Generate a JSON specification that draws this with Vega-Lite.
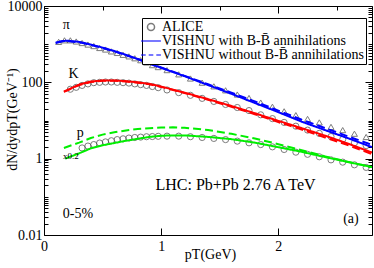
{
  "$schema": "https://vega.github.io/schema/vega-lite/v6.json",
  "width": 328,
  "height": 229,
  "autosize": {"type": "none"},
  "padding": {"left": 44, "top": 6, "right": 2, "bottom": 33},
  "background": "white",
  "config": {
    "view": {"stroke": "black", "strokeWidth": 1},
    "font": "Liberation Serif",
    "axis": {
      "labelFont": "Liberation Serif",
      "labelFontSize": 14,
      "labelColor": "black",
      "titleFont": "Liberation Serif",
      "titleFontSize": 14,
      "titleFontWeight": "normal",
      "titleColor": "black",
      "tickColor": "black",
      "domain": false,
      "grid": false,
      "labelFlush": false,
      "labelOverlap": false,
      "labelBound": false
    },
    "legend": {"labelFont": "Liberation Serif"}
  },
  "datasets": {
    "lines": [
      {"pT": 0.1, "v": 1096, "sp": "pi", "m": "with"},
      {"pT": 0.15, "v": 1202, "sp": "pi", "m": "with"},
      {"pT": 0.2, "v": 1230, "sp": "pi", "m": "with"},
      {"pT": 0.3, "v": 1148, "sp": "pi", "m": "with"},
      {"pT": 0.4, "v": 977, "sp": "pi", "m": "with"},
      {"pT": 0.5, "v": 813, "sp": "pi", "m": "with"},
      {"pT": 0.6, "v": 661, "sp": "pi", "m": "with"},
      {"pT": 0.7, "v": 525, "sp": "pi", "m": "with"},
      {"pT": 0.8, "v": 407, "sp": "pi", "m": "with"},
      {"pT": 0.9, "v": 309, "sp": "pi", "m": "with"},
      {"pT": 1.0, "v": 240, "sp": "pi", "m": "with"},
      {"pT": 1.2, "v": 145, "sp": "pi", "m": "with"},
      {"pT": 1.4, "v": 85, "sp": "pi", "m": "with"},
      {"pT": 1.6, "v": 50, "sp": "pi", "m": "with"},
      {"pT": 1.8, "v": 28.8, "sp": "pi", "m": "with"},
      {"pT": 2.0, "v": 16.6, "sp": "pi", "m": "with"},
      {"pT": 2.2, "v": 9.3, "sp": "pi", "m": "with"},
      {"pT": 2.4, "v": 5.6, "sp": "pi", "m": "with"},
      {"pT": 2.6, "v": 3.4, "sp": "pi", "m": "with"},
      {"pT": 2.8, "v": 2.0, "sp": "pi", "m": "with"},
      {"pT": 0.1, "v": 1072, "sp": "pi", "m": "without"},
      {"pT": 0.15, "v": 1175, "sp": "pi", "m": "without"},
      {"pT": 0.2, "v": 1202, "sp": "pi", "m": "without"},
      {"pT": 0.3, "v": 1122, "sp": "pi", "m": "without"},
      {"pT": 0.4, "v": 955, "sp": "pi", "m": "without"},
      {"pT": 0.5, "v": 794, "sp": "pi", "m": "without"},
      {"pT": 0.6, "v": 646, "sp": "pi", "m": "without"},
      {"pT": 0.7, "v": 513, "sp": "pi", "m": "without"},
      {"pT": 0.8, "v": 407, "sp": "pi", "m": "without"},
      {"pT": 0.9, "v": 316, "sp": "pi", "m": "without"},
      {"pT": 1.0, "v": 245, "sp": "pi", "m": "without"},
      {"pT": 1.2, "v": 148, "sp": "pi", "m": "without"},
      {"pT": 1.4, "v": 89, "sp": "pi", "m": "without"},
      {"pT": 1.6, "v": 53.7, "sp": "pi", "m": "without"},
      {"pT": 1.8, "v": 31.6, "sp": "pi", "m": "without"},
      {"pT": 2.0, "v": 18.2, "sp": "pi", "m": "without"},
      {"pT": 2.2, "v": 10.5, "sp": "pi", "m": "without"},
      {"pT": 2.4, "v": 6.3, "sp": "pi", "m": "without"},
      {"pT": 2.6, "v": 3.8, "sp": "pi", "m": "without"},
      {"pT": 2.8, "v": 2.3, "sp": "pi", "m": "without"},
      {"pT": 0.17, "v": 57.5, "sp": "K", "m": "with"},
      {"pT": 0.2, "v": 63.1, "sp": "K", "m": "with"},
      {"pT": 0.3, "v": 87.1, "sp": "K", "m": "with"},
      {"pT": 0.4, "v": 104.7, "sp": "K", "m": "with"},
      {"pT": 0.5, "v": 112.2, "sp": "K", "m": "with"},
      {"pT": 0.6, "v": 112.2, "sp": "K", "m": "with"},
      {"pT": 0.7, "v": 107.2, "sp": "K", "m": "with"},
      {"pT": 0.8, "v": 100, "sp": "K", "m": "with"},
      {"pT": 0.9, "v": 91.2, "sp": "K", "m": "with"},
      {"pT": 1.0, "v": 77.6, "sp": "K", "m": "with"},
      {"pT": 1.2, "v": 53.7, "sp": "K", "m": "with"},
      {"pT": 1.4, "v": 36.3, "sp": "K", "m": "with"},
      {"pT": 1.6, "v": 24.0, "sp": "K", "m": "with"},
      {"pT": 1.8, "v": 15.5, "sp": "K", "m": "with"},
      {"pT": 2.0, "v": 9.8, "sp": "K", "m": "with"},
      {"pT": 2.2, "v": 6.3, "sp": "K", "m": "with"},
      {"pT": 2.4, "v": 4.0, "sp": "K", "m": "with"},
      {"pT": 2.6, "v": 2.45, "sp": "K", "m": "with"},
      {"pT": 2.8, "v": 1.45, "sp": "K", "m": "with"},
      {"pT": 0.17, "v": 56.2, "sp": "K", "m": "without"},
      {"pT": 0.2, "v": 61.7, "sp": "K", "m": "without"},
      {"pT": 0.3, "v": 85.1, "sp": "K", "m": "without"},
      {"pT": 0.4, "v": 102.3, "sp": "K", "m": "without"},
      {"pT": 0.5, "v": 109.6, "sp": "K", "m": "without"},
      {"pT": 0.6, "v": 109.6, "sp": "K", "m": "without"},
      {"pT": 0.7, "v": 104.7, "sp": "K", "m": "without"},
      {"pT": 0.8, "v": 97.7, "sp": "K", "m": "without"},
      {"pT": 0.9, "v": 89.1, "sp": "K", "m": "without"},
      {"pT": 1.0, "v": 75.9, "sp": "K", "m": "without"},
      {"pT": 1.2, "v": 52.5, "sp": "K", "m": "without"},
      {"pT": 1.4, "v": 35.1, "sp": "K", "m": "without"},
      {"pT": 1.6, "v": 22.9, "sp": "K", "m": "without"},
      {"pT": 1.8, "v": 14.6, "sp": "K", "m": "without"},
      {"pT": 2.0, "v": 9.1, "sp": "K", "m": "without"},
      {"pT": 2.2, "v": 5.8, "sp": "K", "m": "without"},
      {"pT": 2.4, "v": 3.6, "sp": "K", "m": "without"},
      {"pT": 2.6, "v": 2.24, "sp": "K", "m": "without"},
      {"pT": 2.8, "v": 1.32, "sp": "K", "m": "without"},
      {"pT": 0.18, "v": 1.0, "sp": "p", "m": "with"},
      {"pT": 0.3, "v": 1.38, "sp": "p", "m": "with"},
      {"pT": 0.4, "v": 1.86, "sp": "p", "m": "with"},
      {"pT": 0.5, "v": 2.24, "sp": "p", "m": "with"},
      {"pT": 0.6, "v": 2.57, "sp": "p", "m": "with"},
      {"pT": 0.7, "v": 2.95, "sp": "p", "m": "with"},
      {"pT": 0.8, "v": 3.31, "sp": "p", "m": "with"},
      {"pT": 0.9, "v": 3.72, "sp": "p", "m": "with"},
      {"pT": 1.0, "v": 3.98, "sp": "p", "m": "with"},
      {"pT": 1.1, "v": 4.07, "sp": "p", "m": "with"},
      {"pT": 1.2, "v": 4.07, "sp": "p", "m": "with"},
      {"pT": 1.3, "v": 3.89, "sp": "p", "m": "with"},
      {"pT": 1.4, "v": 3.72, "sp": "p", "m": "with"},
      {"pT": 1.6, "v": 3.24, "sp": "p", "m": "with"},
      {"pT": 1.8, "v": 2.63, "sp": "p", "m": "with"},
      {"pT": 2.0, "v": 2.0, "sp": "p", "m": "with"},
      {"pT": 2.2, "v": 1.51, "sp": "p", "m": "with"},
      {"pT": 2.4, "v": 1.10, "sp": "p", "m": "with"},
      {"pT": 2.6, "v": 0.81, "sp": "p", "m": "with"},
      {"pT": 2.8, "v": 0.60, "sp": "p", "m": "with"},
      {"pT": 0.17, "v": 1.91, "sp": "p", "m": "without"},
      {"pT": 0.3, "v": 2.63, "sp": "p", "m": "without"},
      {"pT": 0.4, "v": 3.47, "sp": "p", "m": "without"},
      {"pT": 0.5, "v": 4.27, "sp": "p", "m": "without"},
      {"pT": 0.6, "v": 4.90, "sp": "p", "m": "without"},
      {"pT": 0.7, "v": 5.50, "sp": "p", "m": "without"},
      {"pT": 0.8, "v": 6.03, "sp": "p", "m": "without"},
      {"pT": 0.9, "v": 6.31, "sp": "p", "m": "without"},
      {"pT": 1.0, "v": 6.53, "sp": "p", "m": "without"},
      {"pT": 1.1, "v": 6.61, "sp": "p", "m": "without"},
      {"pT": 1.2, "v": 6.46, "sp": "p", "m": "without"},
      {"pT": 1.4, "v": 5.62, "sp": "p", "m": "without"},
      {"pT": 1.6, "v": 4.47, "sp": "p", "m": "without"},
      {"pT": 1.8, "v": 3.39, "sp": "p", "m": "without"},
      {"pT": 2.0, "v": 2.40, "sp": "p", "m": "without"},
      {"pT": 2.2, "v": 1.66, "sp": "p", "m": "without"},
      {"pT": 2.4, "v": 1.15, "sp": "p", "m": "without"},
      {"pT": 2.6, "v": 0.82, "sp": "p", "m": "without"},
      {"pT": 2.8, "v": 0.60, "sp": "p", "m": "without"}
    ],
    "alice": [
      {"pT": 0.125, "v": 1148, "sp": "pi", "src": "ALICE"},
      {"pT": 0.175, "v": 1259, "sp": "pi", "src": "ALICE"},
      {"pT": 0.225, "v": 1259, "sp": "pi", "src": "ALICE"},
      {"pT": 0.275, "v": 1175, "sp": "pi", "src": "ALICE"},
      {"pT": 0.325, "v": 1072, "sp": "pi", "src": "ALICE"},
      {"pT": 0.375, "v": 977, "sp": "pi", "src": "ALICE"},
      {"pT": 0.425, "v": 891, "sp": "pi", "src": "ALICE"},
      {"pT": 0.475, "v": 794, "sp": "pi", "src": "ALICE"},
      {"pT": 0.525, "v": 724, "sp": "pi", "src": "ALICE"},
      {"pT": 0.575, "v": 646, "sp": "pi", "src": "ALICE"},
      {"pT": 0.625, "v": 589, "sp": "pi", "src": "ALICE"},
      {"pT": 0.675, "v": 525, "sp": "pi", "src": "ALICE"},
      {"pT": 0.725, "v": 479, "sp": "pi", "src": "ALICE"},
      {"pT": 0.775, "v": 427, "sp": "pi", "src": "ALICE"},
      {"pT": 0.825, "v": 380, "sp": "pi", "src": "ALICE"},
      {"pT": 0.875, "v": 331, "sp": "pi", "src": "ALICE"},
      {"pT": 0.925, "v": 282, "sp": "pi", "src": "ALICE"},
      {"pT": 0.975, "v": 251, "sp": "pi", "src": "ALICE"},
      {"pT": 1.05, "v": 209, "sp": "pi", "src": "ALICE"},
      {"pT": 1.15, "v": 162, "sp": "pi", "src": "ALICE"},
      {"pT": 1.25, "v": 126, "sp": "pi", "src": "ALICE"},
      {"pT": 1.35, "v": 98, "sp": "pi", "src": "ALICE"},
      {"pT": 1.45, "v": 78.5, "sp": "pi", "src": "ALICE"},
      {"pT": 1.55, "v": 61.7, "sp": "pi", "src": "ALICE"},
      {"pT": 1.65, "v": 47.9, "sp": "pi", "src": "ALICE"},
      {"pT": 1.75, "v": 38.9, "sp": "pi", "src": "ALICE"},
      {"pT": 1.85, "v": 29.5, "sp": "pi", "src": "ALICE"},
      {"pT": 1.95, "v": 22.9, "sp": "pi", "src": "ALICE"},
      {"pT": 2.05, "v": 17.4, "sp": "pi", "src": "ALICE"},
      {"pT": 2.15, "v": 13.8, "sp": "pi", "src": "ALICE"},
      {"pT": 2.25, "v": 11.0, "sp": "pi", "src": "ALICE"},
      {"pT": 2.35, "v": 8.9, "sp": "pi", "src": "ALICE"},
      {"pT": 2.45, "v": 6.8, "sp": "pi", "src": "ALICE"},
      {"pT": 2.55, "v": 5.6, "sp": "pi", "src": "ALICE"},
      {"pT": 2.65, "v": 4.5, "sp": "pi", "src": "ALICE"},
      {"pT": 2.75, "v": 3.7, "sp": "pi", "src": "ALICE"},
      {"pT": 0.225, "v": 66, "sp": "K", "src": "ALICE"},
      {"pT": 0.275, "v": 74, "sp": "K", "src": "ALICE"},
      {"pT": 0.325, "v": 83, "sp": "K", "src": "ALICE"},
      {"pT": 0.375, "v": 91, "sp": "K", "src": "ALICE"},
      {"pT": 0.425, "v": 98, "sp": "K", "src": "ALICE"},
      {"pT": 0.475, "v": 100, "sp": "K", "src": "ALICE"},
      {"pT": 0.525, "v": 102, "sp": "K", "src": "ALICE"},
      {"pT": 0.575, "v": 102, "sp": "K", "src": "ALICE"},
      {"pT": 0.625, "v": 100, "sp": "K", "src": "ALICE"},
      {"pT": 0.675, "v": 98, "sp": "K", "src": "ALICE"},
      {"pT": 0.725, "v": 95.5, "sp": "K", "src": "ALICE"},
      {"pT": 0.775, "v": 91, "sp": "K", "src": "ALICE"},
      {"pT": 0.825, "v": 87, "sp": "K", "src": "ALICE"},
      {"pT": 0.875, "v": 83, "sp": "K", "src": "ALICE"},
      {"pT": 0.925, "v": 77.6, "sp": "K", "src": "ALICE"},
      {"pT": 0.975, "v": 72.4, "sp": "K", "src": "ALICE"},
      {"pT": 1.05, "v": 63.1, "sp": "K", "src": "ALICE"},
      {"pT": 1.15, "v": 53.7, "sp": "K", "src": "ALICE"},
      {"pT": 1.25, "v": 45.7, "sp": "K", "src": "ALICE"},
      {"pT": 1.35, "v": 38.0, "sp": "K", "src": "ALICE"},
      {"pT": 1.45, "v": 31.6, "sp": "K", "src": "ALICE"},
      {"pT": 1.55, "v": 26.3, "sp": "K", "src": "ALICE"},
      {"pT": 1.65, "v": 21.9, "sp": "K", "src": "ALICE"},
      {"pT": 1.75, "v": 18.2, "sp": "K", "src": "ALICE"},
      {"pT": 1.85, "v": 14.1, "sp": "K", "src": "ALICE"},
      {"pT": 1.95, "v": 11.2, "sp": "K", "src": "ALICE"},
      {"pT": 2.05, "v": 8.9, "sp": "K", "src": "ALICE"},
      {"pT": 2.15, "v": 7.1, "sp": "K", "src": "ALICE"},
      {"pT": 2.25, "v": 5.6, "sp": "K", "src": "ALICE"},
      {"pT": 2.35, "v": 4.6, "sp": "K", "src": "ALICE"},
      {"pT": 2.45, "v": 3.8, "sp": "K", "src": "ALICE"},
      {"pT": 2.55, "v": 3.2, "sp": "K", "src": "ALICE"},
      {"pT": 2.65, "v": 2.6, "sp": "K", "src": "ALICE"},
      {"pT": 2.75, "v": 2.2, "sp": "K", "src": "ALICE"},
      {"pT": 0.325, "v": 1.91, "sp": "p", "src": "ALICE"},
      {"pT": 0.375, "v": 2.14, "sp": "p", "src": "ALICE"},
      {"pT": 0.425, "v": 2.34, "sp": "p", "src": "ALICE"},
      {"pT": 0.475, "v": 2.57, "sp": "p", "src": "ALICE"},
      {"pT": 0.525, "v": 2.75, "sp": "p", "src": "ALICE"},
      {"pT": 0.575, "v": 2.95, "sp": "p", "src": "ALICE"},
      {"pT": 0.625, "v": 3.16, "sp": "p", "src": "ALICE"},
      {"pT": 0.675, "v": 3.31, "sp": "p", "src": "ALICE"},
      {"pT": 0.725, "v": 3.47, "sp": "p", "src": "ALICE"},
      {"pT": 0.775, "v": 3.59, "sp": "p", "src": "ALICE"},
      {"pT": 0.825, "v": 3.67, "sp": "p", "src": "ALICE"},
      {"pT": 0.875, "v": 3.76, "sp": "p", "src": "ALICE"},
      {"pT": 0.925, "v": 3.80, "sp": "p", "src": "ALICE"},
      {"pT": 0.975, "v": 3.85, "sp": "p", "src": "ALICE"},
      {"pT": 1.05, "v": 3.89, "sp": "p", "src": "ALICE"},
      {"pT": 1.15, "v": 3.89, "sp": "p", "src": "ALICE"},
      {"pT": 1.25, "v": 3.76, "sp": "p", "src": "ALICE"},
      {"pT": 1.35, "v": 3.59, "sp": "p", "src": "ALICE"},
      {"pT": 1.45, "v": 3.39, "sp": "p", "src": "ALICE"},
      {"pT": 1.55, "v": 3.16, "sp": "p", "src": "ALICE"},
      {"pT": 1.65, "v": 2.88, "sp": "p", "src": "ALICE"},
      {"pT": 1.75, "v": 2.60, "sp": "p", "src": "ALICE"},
      {"pT": 1.85, "v": 2.34, "sp": "p", "src": "ALICE"},
      {"pT": 1.95, "v": 2.04, "sp": "p", "src": "ALICE"},
      {"pT": 2.05, "v": 1.74, "sp": "p", "src": "ALICE"},
      {"pT": 2.15, "v": 1.48, "sp": "p", "src": "ALICE"},
      {"pT": 2.25, "v": 1.30, "sp": "p", "src": "ALICE"},
      {"pT": 2.35, "v": 1.12, "sp": "p", "src": "ALICE"},
      {"pT": 2.45, "v": 0.93, "sp": "p", "src": "ALICE"},
      {"pT": 2.55, "v": 0.81, "sp": "p", "src": "ALICE"},
      {"pT": 2.65, "v": 0.69, "sp": "p", "src": "ALICE"},
      {"pT": 2.75, "v": 0.59, "sp": "p", "src": "ALICE"}
    ],
    "labels": [
      {"pT": 0.191, "v": 2535, "txt": "π"},
      {"pT": 0.253, "v": 133, "txt": "K"},
      {"pT": 0.309, "v": 3.7, "txt": "p"},
      {"pT": 2.62, "v": 0.0202, "txt": "(a)"}
    ],
    "small": [
      {"pT": 0.23, "v": 1.01, "txt": "x0.2"}
    ],
    "big": [
      {"pT": 1.635, "v": 0.15, "txt": "LHC: Pb+Pb 2.76 A TeV"}
    ],
    "left": [
      {"pT": 0.16, "v": 0.0273, "txt": "0-5%"}
    ]
  },
  "layer": [
    {
      "data": {"name": "alice"},
      "transform": [{"filter": "datum.sp == 'pi'"}],
      "mark": {"type": "point", "shape": "triangle-up", "filled": false, "size": 36, "stroke": "#444444", "strokeWidth": 1},
      "encoding": {
        "x": {"field": "pT", "type": "quantitative", "scale": {"domain": [0, 2.8], "nice": false}, "axis": null},
        "y": {"field": "v", "type": "quantitative", "scale": {"type": "log", "domain": [0.01, 10000], "nice": false}, "axis": null}
      }
    },
    {
      "data": {"name": "alice"},
      "transform": [{"filter": "datum.sp != 'pi'"}],
      "mark": {"type": "point", "filled": false, "size": 38, "strokeWidth": 1},
      "encoding": {
        "x": {"field": "pT", "type": "quantitative", "scale": {"domain": [0, 2.8], "nice": false}, "axis": null},
        "y": {"field": "v", "type": "quantitative", "scale": {"type": "log", "domain": [0.01, 10000], "nice": false}, "axis": null},
        "shape": {
          "field": "src", "type": "nominal",
          "scale": {
            "domain": ["ALICE", "VISHNU with B-B\u0304 annihilations", "VISHNU without B-B\u0304 annihilations"],
            "range": ["circle", "M-2.8,0L2.8,0", "M-2.8,0L-1.5,0M-0.65,0L0.65,0M1.5,0L2.8,0"]
          },
          "legend": {
            "title": null, "orient": "none", "legendX": 98, "legendY": 12,
            "labelFont": "Liberation Serif", "labelFontSize": 14, "labelColor": "black", "labelLimit": 400,
            "symbolSize": 50, "symbolStrokeWidth": 1.5, "padding": 2, "rowPadding": 0,
            "strokeColor": "black", "fillColor": "white", "labelOffset": 4
          }
        },
        "stroke": {
          "field": "src", "type": "nominal",
          "scale": {
            "domain": ["ALICE", "VISHNU with B-B\u0304 annihilations", "VISHNU without B-B\u0304 annihilations"],
            "range": ["#444444", "#0000ff", "#0000ff"]
          },
          "legend": {
            "title": null, "orient": "none", "legendX": 98, "legendY": 12,
            "labelFont": "Liberation Serif", "labelFontSize": 14, "labelColor": "black", "labelLimit": 400,
            "symbolSize": 50, "symbolStrokeWidth": 1.5, "padding": 2, "rowPadding": 0,
            "strokeColor": "black", "fillColor": "white", "labelOffset": 4
          }
        }
      }
    },
    {
      "data": {"name": "lines"},
      "mark": {"type": "line", "strokeWidth": 2, "clip": true},
      "encoding": {
        "x": {"field": "pT", "type": "quantitative", "scale": {"domain": [0, 2.8], "nice": false},
          "axis": {
            "orient": "bottom",
            "values": [0, 0.5, 1, 1.5, 2, 2.5],
            "labelExpr": "datum.value % 1 == 0 ? datum.label : ''",
            "format": "d",
            "labelFont": "Liberation Serif",
            "tickSize": {"condition": {"test": "datum.value % 1 == 0", "value": -7}, "value": -4},
            "labelPadding": 11,
            "title": "pT(GeV)",
            "titleFont": "Liberation Serif",
            "titleX": 166,
            "titleY": 23,
            "titleBaseline": "alphabetic"
          }
        },
        "y": {"field": "v", "type": "quantitative", "scale": {"type": "log", "domain": [0.01, 10000], "nice": false},
          "axis": {
            "orient": "left",
            "values": [0.01,0.02,0.03,0.04,0.05,0.06,0.07,0.08,0.09,0.1,0.2,0.3,0.4,0.5,0.6,0.7,0.8,0.9,1,2,3,4,5,6,7,8,9,10,20,30,40,50,60,70,80,90,100,200,300,400,500,600,700,800,900,1000,2000,3000,4000,5000,6000,7000,8000,9000,10000],
            "labelExpr": "datum.value == 0.01 ? '0.01' : datum.value == 1 ? '1' : datum.value == 100 ? '100' : datum.value == 10000 ? '10000' : ''",
            "labelFont": "Liberation Serif",
            "tickSize": {"condition": {"test": "datum.value == 0.01 || datum.value == 1 || datum.value == 100 || datum.value == 10000", "value": -7}, "value": -4},
            "labelPadding": 9,
            "title": "dN/dydpT(GeV⁻¹)",
            "titleFont": "Liberation Serif",
            "titleX": -32,
            "titleY": 113,
            "titleAngle": -90,
            "titleAlign": "center",
            "titleBaseline": "middle"
          }
        },
        "color": {"field": "sp", "type": "nominal", "scale": {"domain": ["pi", "K", "p"], "range": ["#0000ff", "#ff0000", "#00ee00"]}, "legend": null},
        "strokeDash": {"field": "m", "type": "nominal", "scale": {"domain": ["with", "without"], "range": [[1, 0], [8, 4]]}, "legend": null}
      }
    },
    {
      "data": {"name": "labels"},
      "mark": {"type": "text", "font": "Liberation Serif", "fontSize": 14, "align": "center", "baseline": "alphabetic", "color": "black"},
      "encoding": {
        "x": {"field": "pT", "type": "quantitative", "scale": {"domain": [0, 2.8], "nice": false},
          "axis": {
            "orient": "top",
            "values": [0, 0.5, 1, 1.5, 2, 2.5],
            "labels": false,
            "tickSize": {"condition": {"test": "datum.value % 1 == 0", "value": -7}, "value": -4},
            "title": null
          }
        },
        "y": {"field": "v", "type": "quantitative", "scale": {"type": "log", "domain": [0.01, 10000], "nice": false},
          "axis": {
            "orient": "right",
            "values": [0.01,0.02,0.03,0.04,0.05,0.06,0.07,0.08,0.09,0.1,0.2,0.3,0.4,0.5,0.6,0.7,0.8,0.9,1,2,3,4,5,6,7,8,9,10,20,30,40,50,60,70,80,90,100,200,300,400,500,600,700,800,900,1000,2000,3000,4000,5000,6000,7000,8000,9000,10000],
            "labels": false,
            "tickSize": {"condition": {"test": "datum.value == 0.01 || datum.value == 1 || datum.value == 100 || datum.value == 10000", "value": -7}, "value": -4},
            "title": null
          }
        },
        "text": {"field": "txt", "type": "nominal"}
      }
    },
    {
      "data": {"name": "small"},
      "mark": {"type": "text", "font": "Liberation Serif", "fontSize": 9, "align": "center", "baseline": "alphabetic", "color": "black"},
      "encoding": {
        "x": {"field": "pT", "type": "quantitative", "scale": {"domain": [0, 2.8], "nice": false}, "axis": null},
        "y": {"field": "v", "type": "quantitative", "scale": {"type": "log", "domain": [0.01, 10000], "nice": false}, "axis": null},
        "text": {"field": "txt", "type": "nominal"}
      }
    },
    {
      "data": {"name": "big"},
      "mark": {"type": "text", "font": "Liberation Serif", "fontSize": 16, "align": "center", "baseline": "alphabetic", "color": "black"},
      "encoding": {
        "x": {"field": "pT", "type": "quantitative", "scale": {"domain": [0, 2.8], "nice": false}, "axis": null},
        "y": {"field": "v", "type": "quantitative", "scale": {"type": "log", "domain": [0.01, 10000], "nice": false}, "axis": null},
        "text": {"field": "txt", "type": "nominal"}
      }
    },
    {
      "data": {"name": "left"},
      "mark": {"type": "text", "font": "Liberation Serif", "fontSize": 14, "align": "left", "baseline": "alphabetic", "color": "black"},
      "encoding": {
        "x": {"field": "pT", "type": "quantitative", "scale": {"domain": [0, 2.8], "nice": false}, "axis": null},
        "y": {"field": "v", "type": "quantitative", "scale": {"type": "log", "domain": [0.01, 10000], "nice": false}, "axis": null},
        "text": {"field": "txt", "type": "nominal"}
      }
    }
  ],
  "resolve": {"axis": {"x": "independent", "y": "independent"}}
}
